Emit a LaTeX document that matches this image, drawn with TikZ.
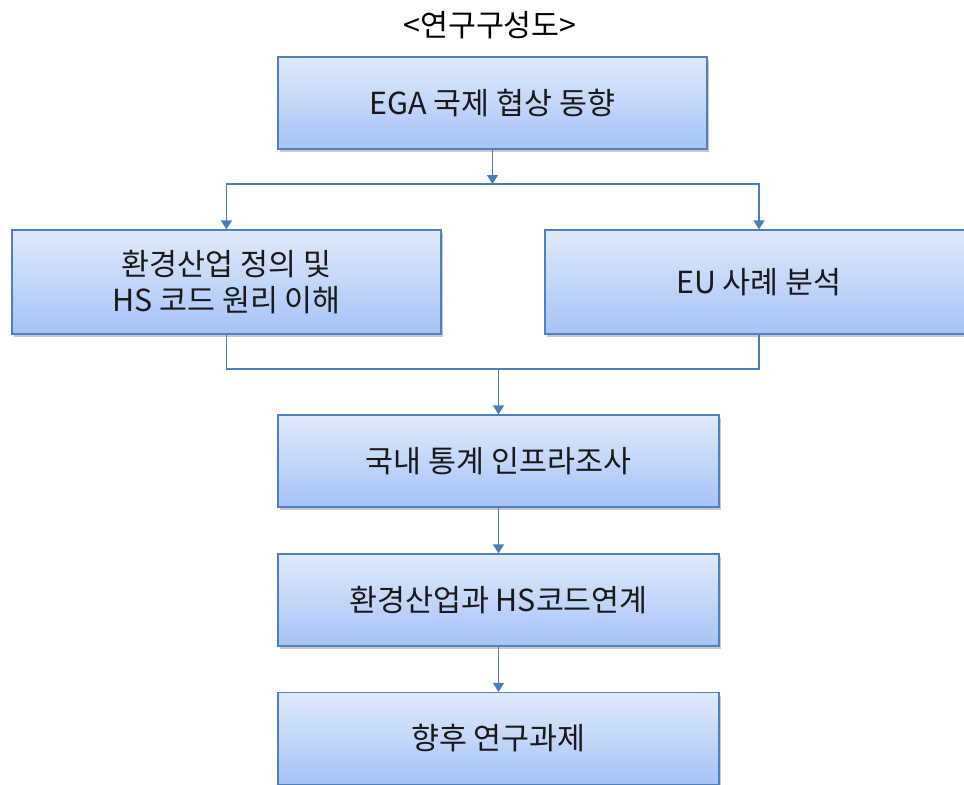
\documentclass[tikz,border=0pt]{standalone}
\usepackage{fontspec}
\setmainfont{Noto Sans CJK KR}
\usetikzlibrary{positioning,calc}
\usetikzlibrary{shadows}
\usetikzlibrary{arrows.meta}

\definecolor{boxline}{RGB}{79,129,189}
\definecolor{boxtop}{RGB}{224,234,252}
\definecolor{boxbot}{RGB}{164,195,246}
\definecolor{flowline}{RGB}{74,126,187}

\tikzset{
  stage/.style={draw=boxline, line width=1.3bp, top color=boxtop, bottom color=boxbot,
    minimum height=92bp, align=center, inner sep=0pt,
    font=\fontsize{30.5}{36}\selectfont, text=black!90,
    drop shadow={shadow xshift=2bp, shadow yshift=-3bp, opacity=0.3, fill=black!70}},
  flow/.style={draw=flowline, line width=1.4bp},
  flowarr/.style={flow, -{Triangle[width=11bp,length=9bp]}}
}

\begin{document}
\begin{tikzpicture}[x=1bp, y=-1bp]
    % Page frame
    \useasboundingbox (0,0) rectangle (964,785);
    \clip (0,0) rectangle (964,785);

    % Title
    \node (title) at (490,25) {\fontsize{30.5}{34}\selectfont <연구구성도>};

    % Draw the boxes
    \node[stage, minimum width=429bp] (ega) at (492.5,103) {EGA 국제 협상 동향};
    \node[stage, minimum width=429bp, minimum height=104bp] (envdef) at (226.5,282) {환경산업 정의 및\\HS 코드 원리 이해};
    \node[stage, minimum width=428bp, minimum height=104bp] (eu) at (759,282) {EU 사례 분석};
    \node[stage, minimum width=441bp] (dom) at (498.5,461) {국내 통계 인프라조사};
    \node[stage, minimum width=441bp] (link) at (498.5,600) {환경산업과 HS코드연계};
    \node[stage, minimum width=441bp] (future) at (498.5,738.5) {향후 연구과제};

    % Split and merge points
    \coordinate (split) at (492.5,184);
    \coordinate (merge) at (498.5,369);

    % Connectors
    \draw[flowarr] (ega.south) -- (split);
    \draw[flowarr] (split) -| (envdef.north);
    \draw[flowarr] (split) -| (eu.north);
    \draw[flow] (envdef.south) |- (merge) -| (eu.south);
    \draw[flowarr] (merge) -- (dom.north);
    \draw[flowarr] (dom.south) -- (link.north);
    \draw[flowarr] (link.south) -- (future.north);

\end{tikzpicture}
\end{document}
